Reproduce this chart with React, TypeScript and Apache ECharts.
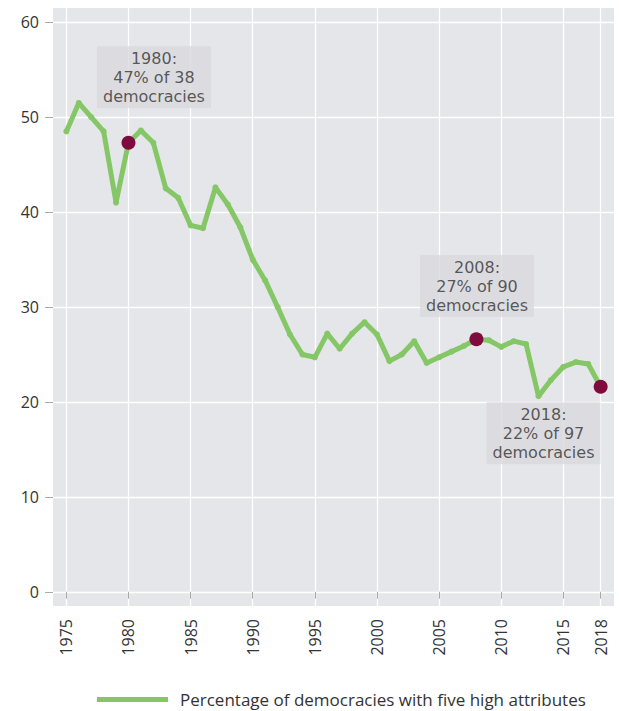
import React, { useEffect, useRef } from "react";
import * as echarts from "echarts";

const years = [
  1975, 1976, 1977, 1978, 1979, 1980, 1981, 1982, 1983, 1984, 1985, 1986, 1987, 1988, 1989,
  1990, 1991, 1992, 1993, 1994, 1995, 1996, 1997, 1998, 1999, 2000, 2001, 2002, 2003, 2004,
  2005, 2006, 2007, 2008, 2009, 2010, 2011, 2012, 2013, 2014, 2015, 2016, 2017, 2018,
];
const values = [
  48.5, 51.5, 50.0, 48.5, 41.0, 47.3, 48.6, 47.3, 42.5, 41.5, 38.6, 38.3, 42.6, 40.8, 38.4,
  35.0, 32.8, 30.0, 27.1, 25.0, 24.7, 27.2, 25.6, 27.2, 28.4, 27.1, 24.3, 25.0, 26.4, 24.1,
  24.7, 25.3, 25.9, 26.6, 26.5, 25.8, 26.4, 26.1, 20.6, 22.3, 23.7, 24.2, 24.0, 21.6,
];
const highlightYears = [1980, 2008, 2018];
const annotationTexts = ["1980:\n47% of 38\ndemocracies", "2008:\n27% of 90\ndemocracies", "2018:\n22% of 97\ndemocracies"];
const annotationAnchors: [number, number][] = [
  [1982.05, 54.2],
  [2008.05, 32.2],
  [2013.4, 16.7],
];
const xTicks = [1975, 1980, 1985, 1990, 1995, 2000, 2005, 2010, 2015, 2018];
const yTicks = [0, 10, 20, 30, 40, 50, 60];
const seriesName = "Percentage of democracies with five high attributes";

const FONT = "'Open Sans', Lato, sans-serif";
const ANN_FONT = "'DejaVu Sans', 'Open Sans', sans-serif";

export default function App() {
  const ref = useRef<HTMLDivElement>(null);
  useEffect(() => {
    if (!ref.current) return;
    const chart = echarts.init(ref.current, undefined, { renderer: "svg" });
    const lineData = years.map((y, i) => [y, values[i]]);
    const hlData = highlightYears.map((y) => [y, values[years.indexOf(y)]]);
    const annData = annotationAnchors.map((a, i) => ({ value: a, label: { formatter: annotationTexts[i] } }));
    chart.setOption({
      animation: false,
      textStyle: { fontFamily: FONT },
      grid: {
        left: 53,
        right: 5,
        top: 8,
        bottom: 105,
        show: true,
        backgroundColor: "#e5e6e9",
        borderWidth: 0,
      },
      legend: {
        data: [{ name: seriesName, icon: "rect" }],
        left: 92,
        top: 686,
        itemWidth: 71,
        itemHeight: 5,
        itemGap: 10,
        textStyle: { fontSize: 17, color: "#333", fontFamily: FONT, padding: [0, 0, 0, 7] },
      },
      xAxis: {
        type: "value",
        min: 1973.925,
        max: 2019.075,
        axisLine: { show: false },
        axisTick: { show: true, customValues: xTicks, length: 7, lineStyle: { color: "#aaa" } },
        axisLabel: {
          customValues: xTicks,
          rotate: 90,
          fontSize: 16,
          color: "#333",
          margin: 13,
          formatter: (v: number) => String(v),
          fontFamily: FONT,
        },
        splitLine: { show: true, lineStyle: { color: "#ffffff", width: 1.3 } },
      },
      yAxis: {
        type: "value",
        min: -1.5,
        max: 61.5,
        axisLine: { show: false },
        axisTick: { show: true, customValues: yTicks, length: 8, lineStyle: { color: "#aaa" } },
        axisLabel: {
          customValues: yTicks,
          fontSize: 16,
          color: "#333",
          margin: 14,
          fontFamily: FONT,
        },
        splitLine: { show: true, lineStyle: { color: "#ffffff", width: 1.3 } },
      },
      series: [
        {
          name: seriesName,
          type: "line",
          data: lineData,
          color: "#85c766",
          lineStyle: { width: 5, color: "#85c766" },
          itemStyle: { color: "#85c766" },
          symbol: "circle",
          symbolSize: 6,
          showSymbol: true,
          z: 2,
        },
        {
          name: "highlight",
          type: "scatter",
          data: hlData,
          symbol: "circle",
          symbolSize: 14,
          itemStyle: { color: "#7d0b3d", opacity: 1 },
          z: 4,
        },
        {
          name: "annotations",
          type: "scatter",
          data: annData,
          symbolSize: 0,
          silent: true,
          z: 5,
          label: {
            show: true,
            position: "inside",
            fontSize: 16,
            lineHeight: 19,
            color: "#333",
            backgroundColor: "#d9dadd",
            padding: [3, 6, 2, 6],
            align: "center",
            verticalAlign: "middle",
            fontFamily: ANN_FONT,
          },
        },
      ],
    });
    return () => chart.dispose();
  }, []);
  return <div ref={ref} style={{ width: 619, height: 711, position: "absolute", left: 0, top: 0 }} />;
}
